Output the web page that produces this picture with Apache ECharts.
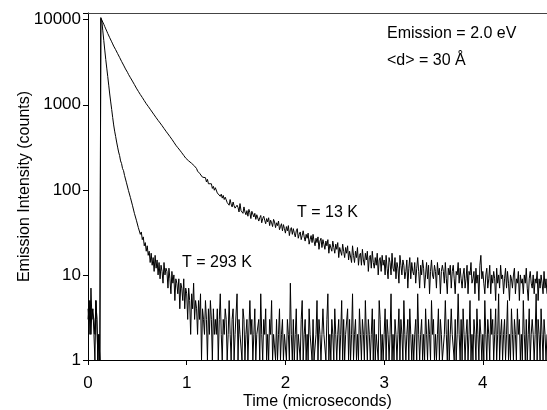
<!DOCTYPE html>
<html>
<head>
<meta charset="utf-8">
<script src="https://cdn.jsdelivr.net/npm/echarts@6/dist/echarts.min.js"></script>
<style>
  html, body { margin: 0; padding: 0; background: #fff; }
  #chart { width: 547px; height: 410px; }
</style>
</head>
<body>
<div id="chart"></div>
<script>
// channel width of the decay traces (microseconds)
const dt = 0.01;

// counts per channel, T = 13 K (rows of 10 channels, start time in comment)
const counts13K = [
  /* 0.00 */ 4, 3, 5, 2, 4, 4, 3, 2, 5, 3,
  /* 0.10 */ 1, 2, 1, 10600, 9900, 9400, 8850, 8300, 7800, 7350,
  /* 0.20 */ 6900, 6550, 6150, 5850, 5500, 5200, 4900, 4680, 4450, 4230,
  /* 0.30 */ 4000, 3820, 3610, 3440, 3240, 3110, 2930, 2820, 2640, 2540,
  /* 0.40 */ 2410, 2280, 2200, 2080, 2010, 1900, 1830, 1730, 1670, 1570,
  /* 0.50 */ 1520, 1440, 1400, 1320, 1290, 1220, 1190, 1120, 1100, 1030,
  /* 0.60 */ 1005, 958, 936, 888, 866, 822, 808, 762, 748, 706,
  /* 0.70 */ 698, 656, 648, 612, 607, 569, 562, 527, 521, 489,
  /* 0.80 */ 486, 455, 451, 423, 421, 393, 391, 363, 361, 335,
  /* 0.90 */ 337, 313, 316, 293, 296, 273, 276, 254, 256, 236,
  /* 1.00 */ 228, 241, 219, 226, 212, 205, 213, 196, 190, 184,
  /* 1.10 */ 178, 166, 170, 157, 152, 160, 141, 147, 135, 139,
  /* 1.20 */ 124, 133, 118, 121, 112, 118, 104, 110, 99, 106,
  /* 1.30 */ 101, 92, 88, 97, 84, 89, 80, 86, 77, 82,
  /* 1.40 */ 79, 71, 74, 66, 77, 68, 63, 72, 65, 61,
  /* 1.50 */ 58, 66, 62, 55, 69, 57, 60, 53, 63, 55,
  /* 1.60 */ 51, 57, 49, 59, 54, 46, 56, 52, 48, 53,
  /* 1.70 */ 45, 51, 52, 43, 47, 50, 41, 46, 49, 44,
  /* 1.80 */ 40, 46, 42, 47, 38, 44, 41, 37, 45, 42,
  /* 1.90 */ 36, 41, 38, 43, 34, 37, 40, 33, 39, 35,
  /* 2.00 */ 31, 37, 33, 38, 29, 34, 36, 30, 35, 31,
  /* 2.10 */ 28, 33, 35, 27, 30, 32, 26, 29, 33, 28,
  /* 2.20 */ 25, 30, 27, 31, 23, 26, 29, 24, 30, 25,
  /* 2.30 */ 22, 27, 24, 28, 20, 25, 27, 21, 26, 23,
  /* 2.40 */ 20, 25, 22, 26, 18, 23, 24, 19, 25, 21,
  /* 2.50 */ 18, 23, 20, 24, 16, 21, 22, 17, 23, 19,
  /* 2.60 */ 16, 21, 18, 22, 15, 19, 20, 14, 22, 17,
  /* 2.70 */ 14, 19, 16, 21, 13, 17, 18, 13, 20, 15,
  /* 2.80 */ 13, 18, 15, 19, 11, 16, 17, 12, 19, 14,
  /* 2.90 */ 12, 16, 13, 18, 10, 15, 16, 11, 17, 13,
  /* 3.00 */ 15, 10, 17, 12, 9, 16, 14, 10, 18, 12,
  /* 3.10 */ 11, 16, 9, 14, 12, 8, 17, 13, 10, 15,
  /* 3.20 */ 13, 9, 11, 15, 7, 12, 16, 9, 14, 11,
  /* 3.30 */ 10, 14, 8, 12, 16, 11, 7, 13, 10, 15,
  /* 3.40 */ 12, 7, 10, 14, 9, 13, 6, 11, 15, 10,
  /* 3.50 */ 9, 13, 11, 7, 14, 10, 12, 6, 11, 13,
  /* 3.60 */ 11, 8, 14, 9, 6, 12, 10, 13, 7, 11,
  /* 3.70 */ 13, 9, 6, 11, 10, 14, 8, 12, 9, 7,
  /* 3.80 */ 10, 12, 7, 9, 13, 6, 11, 10, 14, 8,
  /* 3.90 */ 9, 11, 6, 12, 8, 10, 5, 13, 17, 9,
  /* 4.00 */ 11, 8, 6, 10, 12, 7, 9, 13, 6, 10,
  /* 4.10 */ 8, 11, 9, 5, 12, 8, 10, 7, 13, 9,
  /* 4.20 */ 10, 6, 9, 12, 7, 11, 8, 5, 10, 9,
  /* 4.30 */ 7, 10, 12, 6, 9, 8, 11, 5, 10, 8,
  /* 4.40 */ 9, 6, 10, 8, 12, 7, 5, 9, 11, 8,
  /* 4.50 */ 7, 10, 6, 9, 8, 11, 5, 9, 7, 10,
  /* 4.60 */ 8, 6, 11, 7, 9, 6
];

// counts per channel, T = 293 K (1 = empty channel, drawn on the axis)
const counts293K = [
  /* 0.00 */ 3, 5, 2, 7, 3, 4, 2, 1, 5, 3,
  /* 0.10 */ 1, 2, 1, 10300, 9700, 7400, 5700, 4400, 3400, 2700,
  /* 0.20 */ 2150, 1700, 1340, 1080, 880, 710, 580, 490, 425, 365,
  /* 0.30 */ 318, 279, 253, 219, 204, 178, 168, 148, 141, 121,
  /* 0.40 */ 115, 98, 94, 81, 79, 66, 64, 53, 52, 44,
  /* 0.50 */ 44, 36, 37, 30, 32, 26, 28, 22, 24, 19,
  /* 0.60 */ 22, 17, 19, 14, 18, 13, 16, 11, 17, 12,
  /* 0.70 */ 15, 10, 14, 9, 13, 11, 8, 14, 10, 12,
  /* 0.80 */ 11, 7, 12, 9, 6, 11, 8, 10, 5, 9,
  /* 0.90 */ 8, 6, 9, 4, 8, 7, 5, 9, 4, 7,
  /* 1.00 */ 6, 3, 7, 5, 2, 6, 4, 8, 3, 5,
  /* 1.10 */ 4, 2, 5, 3, 6, 1, 4, 3, 2, 5,
  /* 1.20 */ 3, 1, 4, 2, 5, 3, 1, 4, 2, 3,
  /* 1.30 */ 2, 4, 1, 3, 6, 2, 1, 3, 2, 4,
  /* 1.40 */ 3, 1, 2, 5, 2, 1, 3, 4, 1, 2,
  /* 1.50 */ 2, 6, 1, 3, 2, 2, 1, 4, 3, 1,
  /* 1.60 */ 2, 3, 1, 1, 5, 2, 3, 1, 2, 4,
  /* 1.70 */ 1, 2, 2, 3, 1, 6, 2, 1, 3, 2,
  /* 1.80 */ 4, 1, 2, 1, 3, 2, 5, 1, 2, 2,
  /* 1.90 */ 1, 3, 1, 2, 4, 1, 2, 3, 1, 2,
  /* 2.00 */ 2, 1, 3, 2, 1, 8, 2, 1, 3, 1,
  /* 2.10 */ 2, 4, 1, 2, 2, 1, 3, 5, 1, 2,
  /* 2.20 */ 3, 1, 2, 1, 4, 2, 2, 1, 3, 1,
  /* 2.30 */ 1, 2, 5, 1, 3, 2, 1, 2, 4, 2,
  /* 2.40 */ 2, 1, 3, 6, 1, 2, 1, 3, 2, 1,
  /* 2.50 */ 4, 2, 1, 2, 3, 1, 2, 5, 1, 3,
  /* 2.60 */ 1, 2, 2, 4, 1, 3, 1, 2, 6, 1,
  /* 2.70 */ 2, 3, 1, 2, 1, 4, 2, 1, 3, 2,
  /* 2.80 */ 1, 5, 2, 1, 3, 2, 1, 2, 4, 1,
  /* 2.90 */ 3, 1, 2, 2, 1, 5, 3, 1, 2, 1,
  /* 3.00 */ 2, 4, 1, 3, 2, 1, 2, 6, 1, 2,
  /* 3.10 */ 1, 3, 2, 1, 2, 4, 1, 3, 2, 1,
  /* 3.20 */ 5, 2, 1, 2, 3, 1, 4, 2, 1, 2,
  /* 3.30 */ 1, 2, 3, 1, 6, 2, 1, 2, 3, 1,
  /* 3.40 */ 2, 1, 4, 2, 1, 3, 2, 1, 5, 2,
  /* 3.50 */ 3, 1, 2, 1, 2, 4, 1, 3, 2, 1,
  /* 3.60 */ 1, 2, 5, 2, 1, 3, 1, 2, 4, 2,
  /* 3.70 */ 2, 1, 3, 1, 2, 6, 2, 1, 3, 1,
  /* 3.80 */ 4, 2, 1, 2, 3, 1, 2, 5, 1, 2,
  /* 3.90 */ 1, 3, 2, 1, 4, 2, 1, 3, 2, 1,
  /* 4.00 */ 2, 1, 5, 2, 1, 3, 2, 1, 4, 2,
  /* 4.10 */ 3, 1, 2, 4, 1, 2, 6, 1, 2, 3,
  /* 4.20 */ 1, 2, 3, 1, 2, 5, 1, 2, 1, 4,
  /* 4.30 */ 2, 1, 3, 2, 1, 4, 2, 3, 1, 2,
  /* 4.40 */ 1, 5, 2, 1, 3, 1, 2, 4, 1, 2,
  /* 4.50 */ 3, 2, 1, 2, 6, 1, 3, 2, 1, 4,
  /* 4.60 */ 2, 1, 3, 2, 1, 2
];

const xTicks = [0, 1, 2, 3, 4];
const yTicks = [1, 10, 100, 1000, 10000];

const FONT = '"Liberation Sans", Arial, Helvetica, sans-serif';

function toPoints(counts) {
  return counts.map((c, i) => [+(i * dt).toFixed(2), c]);
}

const chart = echarts.init(document.getElementById('chart'));

chart.setOption({
  animation: false,
  backgroundColor: '#fff',
  textStyle: { fontFamily: FONT, color: '#000' },
  grid: { left: 88, right: 0, top: 13, bottom: 50, outerBoundsMode: 'none', containLabel: false },
  xAxis: [
    {
      type: 'value',
      min: 0,
      max: 4.65,
      interval: 1,
      name: 'Time (microseconds)',
      nameLocation: 'middle',
      nameGap: 34,
      nameMoveOverlap: false,
      nameTextStyle: { fontSize: 16, fontFamily: FONT, color: '#000' },
      axisLine: { show: true, onZero: false, lineStyle: { color: '#000', width: 1 } },
      axisTick: { show: true, length: 5, lineStyle: { color: '#000' } },
      axisLabel: {
        fontSize: 17, fontFamily: FONT, color: '#000', margin: 15,
        formatter: v => (xTicks.indexOf(v) >= 0 ? String(v) : '')
      },
      splitLine: { show: false }
    },
    {
      type: 'value',
      position: 'top',
      min: 0,
      max: 4.65,
      axisLine: { show: true, lineStyle: { color: '#444', width: 1 } },
      axisTick: { show: false },
      axisLabel: { show: false },
      splitLine: { show: false }
    }
  ],
  yAxis: {
    type: 'log',
    logBase: 10,
    min: 1,
    max: 12000,
    name: 'Emission Intensity (counts)',
    nameLocation: 'middle',
    nameGap: 55,
    nameMoveOverlap: false,
    nameTextStyle: { fontSize: 16, fontFamily: FONT, color: '#000' },
    axisLine: { show: true, lineStyle: { color: '#000', width: 1 } },
    axisTick: { show: true, length: 5, lineStyle: { color: '#000' } },
    axisLabel: {
      fontSize: 17, fontFamily: FONT, color: '#000', margin: 7,
      formatter: v => {
        const r = Math.round(v);
        return yTicks.indexOf(r) >= 0 ? String(r) : '';
      }
    },
    splitLine: { show: false }
  },
  series: [
    {
      name: 'T = 13 K',
      type: 'line',
      showSymbol: false,
      symbol: 'none',
      lineStyle: { color: '#000', width: 1 },
      data: toPoints(counts13K)
    },
    {
      name: 'T = 293 K',
      type: 'line',
      showSymbol: false,
      symbol: 'none',
      lineStyle: { color: '#000', width: 1 },
      data: toPoints(counts293K)
    }
  ],
  graphic: [
    { type: 'text', x: 387, y: 34, style: { text: 'Emission = 2.0 eV', font: '16px ' + FONT, fill: '#000', verticalAlign: 'middle' } },
    { type: 'text', x: 387, y: 61, style: { text: '<d> = 30 Å', font: '16px ' + FONT, fill: '#000', verticalAlign: 'middle' } },
    { type: 'text', x: 297, y: 213, style: { text: 'T = 13 K', font: '16px ' + FONT, fill: '#000', verticalAlign: 'middle' } },
    { type: 'text', x: 182, y: 263, style: { text: 'T = 293 K', font: '16px ' + FONT, fill: '#000', verticalAlign: 'middle' } }
  ]
});
</script>
</body>
</html>
